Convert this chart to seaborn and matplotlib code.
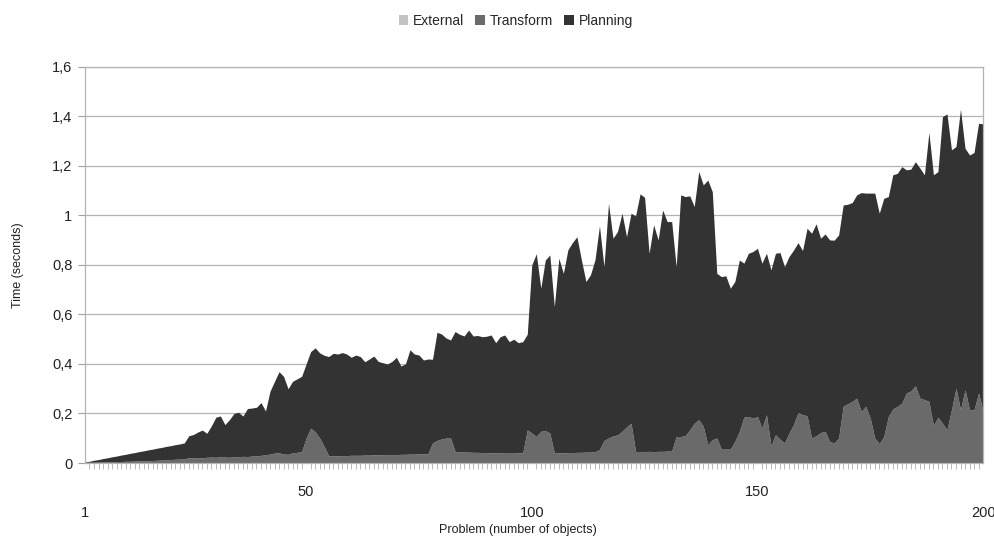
import numpy as np
import pandas as pd
import matplotlib
matplotlib.use("Agg")
import matplotlib.pyplot as plt
from matplotlib.patches import Patch
import seaborn as sns

# -----------------------------
# Data
# -----------------------------

problems = list(range(1, 201))

# stacked top (External + Transform + Planning), seconds
total_time = [
    0.004, 0.007, 0.011, 0.014, 0.018, 0.021, 0.025, 0.028, 0.032, 0.035,
    0.039, 0.042, 0.046, 0.049, 0.053, 0.056, 0.060, 0.063, 0.067, 0.070,
    0.074, 0.077, 0.081, 0.110, 0.115, 0.125, 0.133, 0.120, 0.150, 0.185,
    0.190, 0.155, 0.175, 0.200, 0.205, 0.190, 0.220, 0.222, 0.225, 0.244,
    0.210, 0.290, 0.330, 0.369, 0.350, 0.300, 0.330, 0.340, 0.350, 0.400,
    0.450, 0.465, 0.445, 0.435, 0.430, 0.443, 0.440, 0.446, 0.440, 0.427,
    0.436, 0.430, 0.409, 0.420, 0.432, 0.410, 0.405, 0.400, 0.410, 0.427,
    0.392, 0.400, 0.457, 0.440, 0.436, 0.416, 0.420, 0.419, 0.528, 0.521,
    0.505, 0.497, 0.531, 0.520, 0.513, 0.537, 0.513, 0.515, 0.510, 0.512,
    0.517, 0.486, 0.510, 0.517, 0.490, 0.500, 0.486, 0.490, 0.520, 0.800,
    0.845, 0.706, 0.820, 0.840, 0.632, 0.827, 0.766, 0.861, 0.890, 0.914,
    0.820, 0.733, 0.760, 0.820, 0.958, 0.793, 1.049, 0.908, 0.935, 1.009,
    0.914, 1.009, 0.998, 1.087, 1.073, 0.847, 0.962, 0.901, 1.022, 0.975,
    0.975, 0.793, 1.083, 1.076, 1.079, 1.036, 1.177, 1.123, 1.143, 1.096,
    0.766, 0.753, 0.756, 0.706, 0.733, 0.820, 0.807, 0.847, 0.854, 0.867,
    0.807, 0.847, 0.780, 0.847, 0.850, 0.793, 0.834, 0.860, 0.890, 0.858,
    0.948, 0.928, 0.966, 0.908, 0.925, 0.901, 0.900, 0.921, 1.042, 1.045,
    1.052, 1.083, 1.092, 1.090, 1.090, 1.090, 1.009, 1.069, 1.076, 1.164,
    1.170, 1.197, 1.184, 1.187, 1.217, 1.191, 1.164, 1.335, 1.164, 1.177,
    1.399, 1.410, 1.265, 1.278, 1.429, 1.271, 1.244, 1.254, 1.372, 1.370,
]

transform_time = [
    0.001, 0.002, 0.002, 0.003, 0.003, 0.004, 0.004, 0.005, 0.005, 0.006,
    0.006, 0.007, 0.007, 0.008, 0.008, 0.009, 0.010, 0.011, 0.012, 0.013,
    0.014, 0.015, 0.016, 0.020, 0.020, 0.021, 0.020, 0.022, 0.023, 0.022,
    0.024, 0.023, 0.022, 0.025, 0.024, 0.026, 0.025, 0.027, 0.028, 0.030,
    0.032, 0.035, 0.039, 0.040, 0.035, 0.034, 0.040, 0.042, 0.045, 0.100,
    0.140, 0.125, 0.100, 0.066, 0.028, 0.028, 0.028, 0.029, 0.029, 0.030,
    0.030, 0.030, 0.031, 0.031, 0.032, 0.032, 0.032, 0.033, 0.033, 0.033,
    0.034, 0.034, 0.035, 0.035, 0.036, 0.036, 0.037, 0.080, 0.090, 0.096,
    0.100, 0.100, 0.046, 0.044, 0.043, 0.043, 0.042, 0.042, 0.041, 0.041,
    0.040, 0.040, 0.040, 0.039, 0.039, 0.039, 0.040, 0.040, 0.133, 0.120,
    0.106, 0.127, 0.130, 0.120, 0.039, 0.040, 0.040, 0.041, 0.041, 0.042,
    0.042, 0.043, 0.043, 0.045, 0.053, 0.090, 0.100, 0.108, 0.113, 0.127,
    0.145, 0.160, 0.046, 0.045, 0.045, 0.046, 0.045, 0.046, 0.046, 0.047,
    0.047, 0.106, 0.106, 0.109, 0.133, 0.160, 0.174, 0.147, 0.073, 0.093,
    0.100, 0.055, 0.055, 0.055, 0.086, 0.127, 0.184, 0.187, 0.180, 0.187,
    0.140, 0.194, 0.069, 0.113, 0.095, 0.080, 0.120, 0.154, 0.203, 0.194,
    0.190, 0.100, 0.109, 0.122, 0.127, 0.086, 0.080, 0.100, 0.228, 0.238,
    0.248, 0.261, 0.207, 0.228, 0.180, 0.100, 0.077, 0.106, 0.187, 0.217,
    0.228, 0.241, 0.282, 0.290, 0.311, 0.261, 0.255, 0.248, 0.150, 0.184,
    0.160, 0.133, 0.214, 0.302, 0.214, 0.295, 0.214, 0.214, 0.282, 0.207,
]

# external calls are barely visible at the bottom of the stack
external_time = [
    0.001, 0.001, 0.001, 0.001, 0.001, 0.001, 0.001, 0.001, 0.001, 0.001,
    0.001, 0.001, 0.001, 0.001, 0.001, 0.001, 0.001, 0.001, 0.001, 0.001,
    0.001, 0.001, 0.001, 0.001, 0.001, 0.001, 0.001, 0.001, 0.001, 0.001,
    0.001, 0.001, 0.001, 0.001, 0.001, 0.001, 0.001, 0.001, 0.001, 0.001,
    0.001, 0.001, 0.001, 0.001, 0.001, 0.001, 0.001, 0.001, 0.001, 0.001,
    0.001, 0.001, 0.001, 0.001, 0.001, 0.001, 0.001, 0.001, 0.001, 0.001,
    0.001, 0.001, 0.001, 0.001, 0.001, 0.001, 0.001, 0.001, 0.001, 0.001,
    0.001, 0.001, 0.001, 0.001, 0.001, 0.001, 0.001, 0.001, 0.001, 0.001,
    0.001, 0.001, 0.001, 0.001, 0.001, 0.001, 0.001, 0.001, 0.001, 0.001,
    0.001, 0.001, 0.001, 0.001, 0.001, 0.001, 0.001, 0.001, 0.001, 0.001,
    0.001, 0.001, 0.001, 0.001, 0.001, 0.001, 0.001, 0.001, 0.001, 0.001,
    0.001, 0.001, 0.001, 0.001, 0.001, 0.001, 0.001, 0.001, 0.001, 0.001,
    0.001, 0.001, 0.001, 0.001, 0.001, 0.001, 0.001, 0.001, 0.001, 0.001,
    0.001, 0.001, 0.001, 0.001, 0.001, 0.001, 0.001, 0.001, 0.001, 0.001,
    0.001, 0.001, 0.001, 0.001, 0.001, 0.001, 0.001, 0.001, 0.001, 0.001,
    0.001, 0.001, 0.001, 0.001, 0.001, 0.001, 0.001, 0.001, 0.001, 0.001,
    0.001, 0.001, 0.001, 0.001, 0.001, 0.001, 0.001, 0.001, 0.001, 0.001,
    0.001, 0.001, 0.001, 0.001, 0.001, 0.001, 0.001, 0.001, 0.001, 0.001,
    0.001, 0.001, 0.001, 0.001, 0.001, 0.001, 0.001, 0.001, 0.001, 0.001,
    0.001, 0.001, 0.001, 0.001, 0.001, 0.001, 0.001, 0.001, 0.001, 0.001,
]

series_names = ["External", "Transform", "Planning"]
series_colors = ["#c4c4c4", "#6a6a6a", "#333333"]

y_ticks = [0, 0.2, 0.4, 0.6, 0.8, 1.0, 1.2, 1.4, 1.6]
y_labels = ["0", "0,2", "0,4", "0,6", "0,8", "1", "1,2", "1,4", "1,6"]
x_ticks = [1, 50, 100, 150, 200]
x_labels = ["1", "50", "100", "150", "200"]

data = pd.DataFrame({
    "Problem": problems,
    "External": external_time,
    "Transform": transform_time,
    "Total": total_time,
})
data["Planning"] = data["Total"] - data["Transform"] - data["External"]

# -----------------------------
# Plot
# -----------------------------

sns.set_theme(style="white")
plt.rcParams["font.family"] = ["Liberation Sans", "DejaVu Sans"]

fig = plt.figure(figsize=(9.94, 5.39), dpi=100)
ax = fig.add_axes([0.0855, 0.141, 0.9035, 0.735])

ax.stackplot(
    data["Problem"],
    data["External"], data["Transform"], data["Planning"],
    colors=series_colors, linewidth=0, labels=series_names,
)

ax.set_xlim(1, 200)
ax.set_ylim(0, 1.6)

ax.set_yticks(y_ticks)
ax.set_yticklabels(y_labels)
ax.yaxis.grid(True, color="#b4b4b4", linewidth=0.9)
ax.set_axisbelow(True)
ax.tick_params(axis="y", which="major", left=True, length=5, width=0.8,
               color="#a0a0a0", labelsize=10.5, pad=4, labelcolor="#222222")

ax.set_xticks(x_ticks)
ax.set_xticklabels(x_labels)
ax.set_xticks(problems, minor=True)
ax.tick_params(axis="x", which="major", bottom=False, length=0,
               labelsize=10.5, labelcolor="#222222")
ax.tick_params(axis="x", which="minor", bottom=True, length=4, width=0.6,
               color="#b0b0b0", direction="out")

# staggered x labels like the original
for i, tick in enumerate(ax.xaxis.get_major_ticks()):
    tick.set_pad(16 if i % 2 == 1 else 31)

for side in ["left", "right", "top", "bottom"]:
    ax.spines[side].set_color("#b4b4b4")
    ax.spines[side].set_linewidth(0.9)

fig.text(0.5215, 0.017, "Problem (number of objects)", fontsize=9,
         color="#222222", ha="center", va="center")
ax.set_ylabel("Time (seconds)", fontsize=9, color="#222222", labelpad=20)

handles = [Patch(facecolor=c, edgecolor="none") for c in series_colors]
fig.legend(handles, series_names, loc="upper center", bbox_to_anchor=(0.519, 0.997),
           ncol=3, frameon=False, fontsize=10, handlelength=0.7, handleheight=0.7,
           handletextpad=0.35, columnspacing=0.8)

fig.savefig("out.png", dpi=100)
